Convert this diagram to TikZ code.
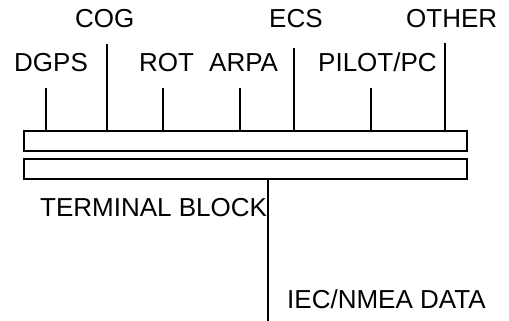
\documentclass[tikz,border=0pt]{standalone}
\usepackage{fontspec}
\setmainfont{Liberation Sans}
\begin{document}
\begin{tikzpicture}[x=1pt,y=-1pt,
  lbl/.style={inner sep=0pt,anchor=base west,font=\fontsize{26}{30}\selectfont},
  bar/.style={draw,line width=2pt,minimum width=443pt,minimum height=20pt,inner sep=0pt,anchor=north west},
  wire/.style={line width=2pt}]
\useasboundingbox (0,0) rectangle (509,321);
\node[bar] (top) at (23,130) {};
\node[bar] (bot) at (23,158) {};
% labels
\node[lbl] (dgps) at (14,72) {DGPS};
\node[lbl] (cog) at (75,28) {COG};
\node[lbl] (rot) at (139,72) {ROT};
\node[lbl] (arpa) at (209,72) {ARPA};
\node[lbl] (ecs) at (269,28) {ECS};
\node[lbl] (pilot) at (318,72) {PILOT/PC};
\node[lbl] (other) at (406,28) {OTHER};
\node[lbl] (tb) at (40,216) {TERMINAL BLOCK};
\node[lbl] (iec) at (287,308) {IEC/NMEA DATA};
% wire ends
\coordinate (cdgps) at (46,88);
\coordinate (ccog) at (107,44);
\coordinate (crot) at (163,88);
\coordinate (carpa) at (240,88);
\coordinate (cecs) at (294,48);
\coordinate (cpilot) at (371,88);
\coordinate (cother) at (445,43);
\coordinate (cout) at (268,321);
\foreach \c in {cdgps,ccog,crot,carpa,cecs,cpilot,cother}
  \draw[wire] (\c) -- (\c |- top.north);
\draw[wire] (cout |- bot.south) -- (cout);
\end{tikzpicture}
\end{document}
